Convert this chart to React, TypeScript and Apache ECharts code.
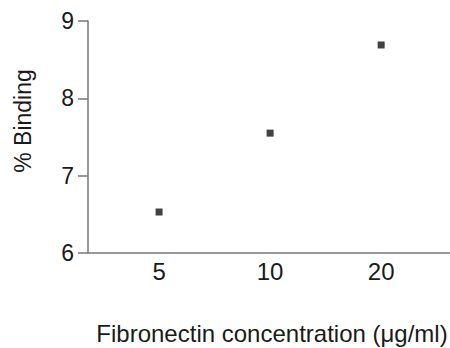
import React, { useEffect, useRef } from "react";
import * as echarts from "echarts";

const categories: string[] = ["5", "10", "20"];
const bindingValues: number[] = [6.53, 7.55, 8.69];
const yTicks: number[] = [6, 7, 8, 9];
const xTitle = "Fibronectin concentration (\u03bcg/ml)";
const yTitle = "% Binding";

const FONT = "'Liberation Sans', Arial, Helvetica, sans-serif";
const TEXT = "#1a1a1a";
const AXIS = "#777";

export default function App() {
  const ref = useRef<HTMLDivElement>(null);
  useEffect(() => {
    if (!ref.current) return;
    const chart = echarts.init(ref.current, undefined, { renderer: "svg" });
    chart.setOption({
      animation: false,
      backgroundColor: "#fff",
      grid: { left: 88, right: 0, top: 21, bottom: 95, outerBoundsMode: "none", containLabel: false },
      xAxis: {
        type: "value",
        min: -0.64,
        max: 2.62,
        axisLine: { show: true, onZero: false, lineStyle: { color: AXIS, width: 1.5 } },
        axisTick: { show: false },
        splitLine: { show: false },
        axisLabel: {
          customValues: categories.map((_, i) => i),
          formatter: (v: number) => categories[Math.round(v)] ?? "",
          fontSize: 24,
          color: TEXT,
          fontFamily: FONT,
          margin: 6,
        },
      },
      yAxis: {
        type: "value",
        min: yTicks[0],
        max: yTicks[yTicks.length - 1],
        interval: 1,
        axisLine: { show: true, onZero: false, lineStyle: { color: AXIS, width: 1.5 } },
        axisTick: { show: true, length: 10, lineStyle: { color: AXIS, width: 1.5 } },
        splitLine: { show: false },
        axisLabel: { fontSize: 23, color: TEXT, fontFamily: FONT, margin: 14 },
      },
      series: [
        {
          type: "scatter",
          symbol: "rect",
          symbolSize: 7,
          itemStyle: { color: "#111" },
          data: categories.map((_, i) => [i, bindingValues[i]]),
        },
      ],
      graphic: [
        {
          type: "text",
          x: 23,
          y: 121,
          rotation: Math.PI / 2,
          style: { text: yTitle, fontSize: 23, fill: TEXT, fontFamily: FONT, align: "center", verticalAlign: "middle" },
        },
        {
          type: "text",
          x: 272,
          y: 333,
          style: { text: xTitle, fontSize: 24, fill: TEXT, fontFamily: FONT, align: "center", verticalAlign: "middle" },
        },
      ],
    });
    return () => chart.dispose();
  }, []);
  return <div ref={ref} style={{ position: "fixed", left: 0, top: 0, width: 450, height: 348 }} />;
}
